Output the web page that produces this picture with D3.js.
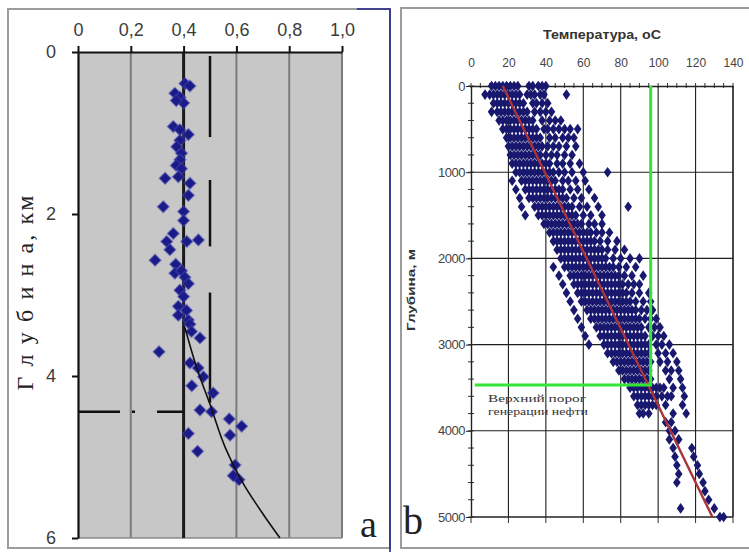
<!DOCTYPE html>
<html>
<head>
<meta charset="utf-8">
<script src="https://cdn.jsdelivr.net/npm/d3@7"></script>
<style>
  body { margin: 0; background: #fff; }
  svg { display: block; }
</style>
</head>
<body>
<svg id="chart" width="749" height="552"></svg>
<script>
// ---------- Panel a: ratio vs depth (km) ----------
const ratioTicks = [0, 0.2, 0.4, 0.6, 0.8, 1.0];
const ratioTickLabels = ["0", "0,2", "0,4", "0,6", "0,8", "1,0"];
const depthKmTicks = [0, 2, 4, 6];
const baselineRatio = 0.4;
const segmentRatio = 0.5;
const segmentRanges = [[0.05, 1.05], [1.58, 2.4], [2.97, 4.33]];
const thresholdDepthKm = 4.44;
const ratioCurve = [[0.405, 3.4], [0.45, 3.9], [0.5, 4.35], [0.56, 4.9], [0.63, 5.35], [0.7, 5.7], [0.765, 6.0]];
const ratioPoints = [
  [0.405, 0.39], [0.424, 0.42], [0.367, 0.51], [0.386, 0.56], [0.40, 0.63], [0.372, 0.60],
  [0.361, 0.92], [0.386, 0.96], [0.418, 1.02], [0.386, 1.09], [0.374, 1.17], [0.392, 1.25],
  [0.386, 1.33], [0.372, 1.40], [0.392, 1.44], [0.33, 1.56], [0.38, 1.54], [0.424, 1.62],
  [0.418, 1.77], [0.323, 1.91], [0.40, 1.97], [0.40, 2.08], [0.361, 2.24], [0.336, 2.34],
  [0.412, 2.34], [0.456, 2.32], [0.348, 2.44], [0.292, 2.57], [0.37, 2.62], [0.367, 2.73],
  [0.392, 2.70], [0.405, 2.78], [0.418, 2.86], [0.386, 2.94], [0.40, 3.02], [0.38, 3.14],
  [0.411, 3.19], [0.38, 3.25], [0.418, 3.31], [0.424, 3.36], [0.43, 3.45], [0.462, 3.53],
  [0.307, 3.70], [0.424, 3.84], [0.455, 3.90], [0.475, 4.01], [0.431, 4.12], [0.512, 4.21],
  [0.462, 4.42], [0.506, 4.44], [0.573, 4.53], [0.62, 4.62], [0.576, 4.73], [0.418, 4.71],
  [0.453, 4.93], [0.595, 5.10], [0.61, 5.28], [0.588, 5.23]
];

// ---------- Panel b: temperature vs depth (m) ----------
const tempTicks = [0, 20, 40, 60, 80, 100, 120, 140];
const depthMTicks = [0, 1000, 2000, 3000, 4000, 5000];
const tempTrend = [[17, 0], [129, 5000]];
const thresholdTemp = 96;
const thresholdDepth = 3470;
const thresholdLines = ["Верхний порог", "генерации нефти"];
// measurement depths (m) and the temperatures logged at each depth
const rowDepths = [
  0, 100, 200, 300, 400, 500, 600, 700, 800, 900,
  1000, 1100, 1200, 1300, 1400, 1500, 1600, 1700, 1800, 1900,
  2000, 2100, 2200, 2300, 2400, 2500, 2600, 2700, 2800, 2900,
  3000, 3100, 3200, 3300, 3400, 3500, 3600, 3700, 3800, 3900,
  4000, 4100, 4200, 4300, 4400, 4500, 4600, 4700, 4800, 4900, 5000
];
const rowTemps = [
  [11, 13, 15, 17, 19, 21, 23, 25, 31, 33, 36, 38, 40],
  [7.5, 10, 12, 14, 16, 18, 20, 22, 24, 26, 30, 32, 34, 37, 39, 51],
  [12, 14, 16, 18, 20, 22, 24, 26, 28, 33, 35, 38, 41],
  [11, 14, 16, 18, 20, 22, 24, 26, 28, 30, 34, 37, 40, 43],
  [15, 17, 19, 21, 23, 25, 27, 29, 31, 33, 38, 42, 45, 48],
  [17, 19, 21, 23, 25, 27, 29, 31, 33, 35, 39, 41, 44, 47, 50, 53, 57],
  [19, 21, 23, 25, 27, 29, 31, 33, 35, 37, 42, 45, 49, 52, 55],
  [20, 22, 24, 26, 28, 30, 32, 34, 36, 38, 41, 44, 47, 51, 56],
  [21, 23, 25, 27, 29, 31, 33, 35, 37, 40, 43, 46, 50, 54],
  [22, 24, 26, 28, 30, 32, 34, 36, 38, 40, 42, 46, 49, 53, 58],
  [24, 26, 28, 30, 32, 34, 36, 38, 40, 42, 44, 47, 50, 54, 60, 73],
  [22, 27, 29, 31, 33, 35, 37, 39, 41, 43, 45, 49, 52, 56, 61],
  [24, 29, 31, 33, 35, 37, 39, 41, 43, 45, 47, 49, 53, 57, 63],
  [26, 31, 33, 35, 37, 39, 41, 43, 45, 47, 49, 51, 55, 59, 66],
  [27, 34, 36, 38, 40, 42, 44, 46, 48, 50, 52, 54, 58, 62, 68, 84],
  [29, 36, 38, 40, 42, 44, 46, 48, 50, 52, 54, 56, 60, 64, 70],
  [39, 41, 43, 45, 47, 49, 51, 53, 55, 57, 59, 63, 66, 70],
  [42, 44, 46, 48, 50, 52, 54, 56, 58, 60, 62, 64, 67, 70, 74],
  [44, 46, 48, 50, 52, 54, 56, 58, 60, 62, 64, 66, 69, 73, 78],
  [46, 48, 50, 52, 54, 56, 58, 60, 62, 64, 66, 68, 70, 73, 77, 82],
  [48, 50, 52, 54, 56, 58, 60, 62, 64, 66, 68, 70, 72, 76, 80, 85, 90],
  [44, 50, 52, 54, 56, 58, 60, 62, 64, 66, 68, 70, 72, 74, 76, 79, 83, 88],
  [47, 53, 55, 57, 59, 61, 63, 65, 67, 69, 71, 73, 75, 77, 79, 82, 86, 92],
  [49, 55, 57, 59, 61, 63, 65, 67, 69, 71, 73, 75, 77, 79, 81, 84, 87, 90],
  [51, 57, 59, 61, 63, 65, 67, 69, 71, 73, 75, 77, 79, 81, 83, 86, 90, 95],
  [53, 59, 61, 63, 65, 67, 69, 71, 73, 75, 77, 79, 81, 83, 85, 88, 92, 96],
  [55, 62, 64, 66, 68, 70, 72, 74, 76, 78, 80, 82, 84, 86, 88, 91, 94, 97],
  [57, 64, 66, 68, 70, 72, 74, 76, 78, 80, 82, 84, 86, 88, 90, 93, 96, 99],
  [59, 67, 69, 71, 73, 75, 77, 79, 81, 83, 85, 87, 89, 91, 95, 98, 101],
  [61, 69, 71, 73, 75, 77, 79, 81, 83, 85, 87, 89, 91, 93, 97, 100, 103],
  [63, 71, 73, 75, 77, 79, 81, 83, 85, 87, 89, 91, 93, 95, 99, 102, 106],
  [73, 75, 77, 79, 81, 83, 85, 87, 89, 91, 93, 95, 100, 104, 108],
  [76, 78, 80, 82, 84, 86, 88, 90, 92, 94, 96, 101, 105, 110],
  [79, 81, 83, 85, 87, 89, 91, 93, 95, 104, 107, 111],
  [82, 84, 86, 88, 90, 92, 94, 96, 106, 112],
  [85, 87, 89, 91, 93, 95, 97, 99, 101, 103, 108, 113],
  [87, 89, 91, 93, 95, 97, 99, 102, 105, 107, 114],
  [89, 91, 93, 95, 97, 99, 104, 113],
  [90, 92, 95, 108, 115],
  [104, 107],
  [106, 109],
  [106, 111],
  [108, 118],
  [109, 119],
  [110, 121],
  [111, 122],
  [110, 124],
  [125],
  [127],
  [112, 130],
  [133, 135]
];

const svg = d3.select("#chart");
const diamond = (rx, ry) => `M0,${-ry}L${rx},0L0,${ry}L${-rx},0Z`;

// panel frames
svg.append("rect").attr("x", 8).attr("y", 9).attr("width", 382).attr("height", 539)
  .attr("fill", "none").attr("stroke", "#9c9c9c").attr("stroke-width", 2);
svg.append("path").attr("d", "M357,9H390V552").attr("fill", "none")
  .attr("stroke", "#25258a").attr("stroke-width", 1.6);
svg.append("rect").attr("x", 401).attr("y", 8).attr("width", 360).attr("height", 540)
  .attr("fill", "none").attr("stroke", "#9c9c9c").attr("stroke-width", 2);

// ===== Panel a =====
const xA = d3.scaleLinear([0, 1], [78, 342]);
const yA = d3.scaleLinear([0, 6], [52, 538]);
const gA = svg.append("g");

gA.append("rect").attr("x", xA(0)).attr("y", yA(0))
  .attr("width", xA(1) - xA(0)).attr("height", yA(6) - yA(0)).attr("fill", "#c7c7c7");

gA.selectAll(".gridA").data(ratioTicks.filter(t => t > 0 && t !== baselineRatio)).join("line")
  .attr("x1", d => xA(d)).attr("x2", d => xA(d)).attr("y1", yA(0)).attr("y2", yA(6))
  .attr("stroke", "#7c7c7c").attr("stroke-width", 2);
gA.append("line").attr("x1", xA(0)).attr("x2", xA(1)).attr("y1", yA(6)).attr("y2", yA(6))
  .attr("stroke", "#8a8a8a").attr("stroke-width", 1.5);

// reference line at 0.4
gA.append("line").attr("x1", xA(baselineRatio)).attr("x2", xA(baselineRatio))
  .attr("y1", yA(0)).attr("y2", yA(6)).attr("stroke", "#1a1a1a").attr("stroke-width", 3);

const axTop = d3.axisTop(xA).tickValues(ratioTicks)
  .tickFormat((d, i) => ratioTickLabels[i]).tickSize(6).tickSizeOuter(0).tickPadding(10);
const axLeft = d3.axisLeft(yA).tickValues(depthKmTicks).tickFormat(d3.format("d"))
  .tickSize(6).tickSizeOuter(0).tickPadding(16);
[gA.append("g").attr("transform", `translate(0,${yA(0)})`).call(axTop),
 gA.append("g").attr("transform", `translate(${xA(0)},0)`).call(axLeft)].forEach(g => {
  g.select(".domain").attr("stroke", "#111").attr("stroke-width", 2.2);
  g.selectAll(".tick line").attr("stroke", "#111").attr("stroke-width", 2);
  g.selectAll("text").attr("font-family", "Arial, 'Liberation Sans', sans-serif")
    .attr("font-size", 18).attr("fill", "#3c3c3c");
});

// interval bars at 0.5
gA.selectAll(".seg").data(segmentRanges).join("line")
  .attr("x1", xA(segmentRatio)).attr("x2", xA(segmentRatio))
  .attr("y1", d => yA(d[0])).attr("y2", d => yA(d[1]))
  .attr("stroke", "#111").attr("stroke-width", 2.5);

// threshold depth marker
gA.append("line").attr("x1", xA(0)).attr("x2", xA(baselineRatio))
  .attr("y1", yA(thresholdDepthKm)).attr("y2", yA(thresholdDepthKm))
  .attr("stroke", "#111").attr("stroke-width", 2.5).attr("stroke-dasharray", "42 12 3 22");

// measured points
gA.selectAll(".ptA").data(ratioPoints).join("path")
  .attr("transform", d => `translate(${xA(d[0])},${yA(d[1])})`)
  .attr("d", diamond(5.8, 5.8))
  .attr("fill", "#1b1b88").attr("stroke", "rgba(70,70,180,0.45)").attr("stroke-width", 1.6);

// trend curve below the threshold
gA.append("path").datum(ratioCurve)
  .attr("d", d3.line().x(d => xA(d[0])).y(d => yA(d[1])).curve(d3.curveMonotoneY))
  .attr("fill", "none").attr("stroke", "#111").attr("stroke-width", 1.6);

gA.append("text").attr("transform", "translate(33,293) rotate(-90)")
  .attr("text-anchor", "middle").attr("font-family", "'Liberation Serif', 'Times New Roman', serif")
  .attr("font-size", 24).attr("fill", "#222")
  .attr("textLength", 195).attr("lengthAdjust", "spacing")
  .text("Г л у б и н а, км");
gA.append("text").attr("x", 360).attr("y", 537)
  .attr("font-family", "'Liberation Serif', 'Times New Roman', serif")
  .attr("font-size", 38).attr("fill", "#222").text("a");

// ===== Panel b =====
const xB = d3.scaleLinear([0, 140], [471, 733]);
const yB = d3.scaleLinear([0, 5000], [86, 517]);
const gB = svg.append("g");

gB.selectAll(".gvB").data(tempTicks.filter(t => t > 0)).join("line")
  .attr("x1", d => xB(d)).attr("x2", d => xB(d)).attr("y1", yB(0)).attr("y2", yB(5000))
  .attr("stroke", "#1e1e1e").attr("stroke-width", 1.1);
gB.selectAll(".ghB").data(depthMTicks.filter(t => t > 0)).join("line")
  .attr("x1", xB(0)).attr("x2", xB(140)).attr("y1", d => yB(d)).attr("y2", d => yB(d))
  .attr("stroke", "#1e1e1e").attr("stroke-width", 1.1);

// minor ticks
gB.selectAll(".mtTop").data(d3.range(0, 141, 5)).join("line")
  .attr("x1", d => xB(d)).attr("x2", d => xB(d)).attr("y1", yB(0) - 3).attr("y2", yB(0) + 2)
  .attr("stroke", "#333").attr("stroke-width", 1);
gB.selectAll(".mtLeft").data(d3.range(0, 5001, 200)).join("line")
  .attr("x1", xB(0) - 3).attr("x2", xB(0) + 3).attr("y1", d => yB(d)).attr("y2", d => yB(d))
  .attr("stroke", "#333").attr("stroke-width", 1);
gB.selectAll(".mtBottom").data(tempTicks).join("line")
  .attr("x1", d => xB(d)).attr("x2", d => xB(d)).attr("y1", yB(5000)).attr("y2", yB(5000) + 6)
  .attr("stroke", "#333").attr("stroke-width", 1);

const axTopB = d3.axisTop(xB).tickValues(tempTicks).tickSize(0).tickSizeOuter(0).tickPadding(19);
const axLeftB = d3.axisLeft(yB).tickValues(depthMTicks).tickFormat(d3.format("d"))
  .tickSize(5).tickSizeOuter(0).tickPadding(1);
const gTopB = gB.append("g").attr("transform", `translate(0,${yB(0)})`).call(axTopB);
const gLeftB = gB.append("g").attr("transform", `translate(${xB(0)},0)`).call(axLeftB);
[gTopB, gLeftB].forEach(g => {
  g.select(".domain").attr("stroke", "#222").attr("stroke-width", 1.4);
  g.selectAll(".tick line").attr("stroke", "#222");
  g.selectAll("text").attr("font-family", "Arial, 'Liberation Sans', sans-serif").attr("fill", "#444");
});
gTopB.selectAll("text").attr("font-size", 12);
gLeftB.selectAll("text").attr("font-size", 13).attr("letter-spacing", -0.5);
gB.append("line").attr("x1", xB(140)).attr("x2", xB(140)).attr("y1", yB(0)).attr("y2", yB(5000))
  .attr("stroke", "#222").attr("stroke-width", 1.2);
gB.append("line").attr("x1", xB(0)).attr("x2", xB(140)).attr("y1", yB(5000)).attr("y2", yB(5000))
  .attr("stroke", "#222").attr("stroke-width", 1.2);

// well temperature measurements
const tempPoints = rowDepths.flatMap((dep, i) => rowTemps[i].map(t => [t, dep]));
gB.selectAll(".ptB").data(tempPoints).join("path")
  .attr("transform", d => `translate(${xB(d[0])},${yB(d[1])})`)
  .attr("d", diamond(3.8, 5.3))
  .attr("fill", "#18186f");

// geothermal trend
gB.append("path").datum(tempTrend)
  .attr("d", d3.line().x(d => xB(d[0])).y(d => yB(d[1])))
  .attr("stroke", "#a8343c").attr("stroke-width", 2.4).attr("fill", "none");

// oil generation threshold
gB.append("path")
  .attr("d", d3.line()([[xB(thresholdTemp), yB(0)], [xB(thresholdTemp), yB(thresholdDepth)], [xB(2), yB(thresholdDepth)]]))
  .attr("stroke", "#33e633").attr("stroke-width", 3).attr("fill", "none");

gB.selectAll(".note").data(thresholdLines).join("text")
  .attr("x", 488).attr("y", (d, i) => 402 + i * 13)
  .attr("font-family", "'Liberation Serif', 'Times New Roman', serif")
  .attr("font-size", 11).attr("fill", "#333")
  .attr("textLength", (d, i) => i === 0 ? 98 : 100).attr("lengthAdjust", "spacingAndGlyphs")
  .text(d => d);

gB.append("text").attr("x", 602).attr("y", 39).attr("text-anchor", "middle")
  .attr("font-family", "Arial, 'Liberation Sans', sans-serif").attr("font-weight", "bold")
  .attr("font-size", 12).attr("fill", "#333")
  .attr("textLength", 118).attr("lengthAdjust", "spacingAndGlyphs")
  .text("Температура, оС");
gB.append("text").attr("transform", "translate(415,290) rotate(-90)").attr("text-anchor", "middle")
  .attr("font-family", "Arial, 'Liberation Sans', sans-serif").attr("font-weight", "bold")
  .attr("font-size", 11).attr("fill", "#333")
  .attr("textLength", 82).attr("lengthAdjust", "spacingAndGlyphs")
  .text("Глубина, м");
gB.append("text").attr("x", 403).attr("y", 534)
  .attr("font-family", "'Liberation Serif', 'Times New Roman', serif")
  .attr("font-size", 40).attr("fill", "#222").text("b");
</script>
</body>
</html>
